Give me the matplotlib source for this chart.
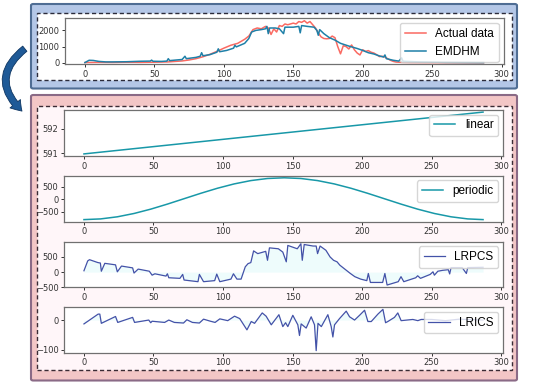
import matplotlib
matplotlib.use("Agg")
import matplotlib.pyplot as plt
from matplotlib.patches import FancyBboxPatch, Rectangle, FancyArrowPatch

# ---- data ----
actual_x = [0, 10, 20, 30, 40, 50, 60, 65, 70, 75, 80, 85, 90, 95, 100, 105, 110, 115, 118, 121,
            124, 127, 130, 132, 134, 136, 138, 140, 142, 144, 146, 148, 150, 152, 154, 156, 158,
            160, 162, 164, 166, 168, 170, 172, 174, 176, 178, 180, 182, 184, 186, 188, 190, 192,
            194, 196, 198, 200, 202, 204, 206, 208, 210, 212, 214, 216, 218, 220, 222, 224, 228,
            235, 250, 287]
actual_y = [10, 20, 15, 25, 20, 30, 50, 80, 110, 170, 250, 370, 520, 700, 900, 1080, 1200, 1450,
            1650, 2050, 2150, 2100, 2250, 2150, 1750, 2100, 1900, 2300, 2250, 2400, 2350, 2400,
            2450, 2400, 2550, 2500, 2600, 2450, 2550, 2350, 2150, 1850, 1600, 1500, 1480, 1500,
            1650, 1550, 1000, 550, 1050, 1000, 850, 1100, 800, 600, 480, 800, 700, 750, 650, 600,
            500, 380, 400, 350, 250, 150, 80, 40, 20, 10, 5, 0]

emdhm_x = [0, 3, 6, 10, 15, 20, 30, 40, 47, 48, 49, 55, 59, 60, 61, 70, 72, 73, 80, 83, 84, 85,
           90, 95, 96, 97, 102, 107, 108, 109, 115, 118, 120, 123, 127, 130, 131, 132, 133, 137,
           140, 143, 144, 150, 154, 155, 156, 160, 165, 167, 168, 169, 172, 176, 180, 184, 190,
           196, 200, 204, 208, 212, 215, 216, 217, 222, 226, 228, 229, 240, 260, 287]
emdhm_y = [10, 150, 140, 80, 50, 50, 60, 90, 100, 160, 90, 80, 100, 250, 130, 200, 400, 250, 330,
           400, 620, 430, 500, 650, 860, 680, 760, 900, 1080, 980, 1200, 1500, 1900, 2000, 2050,
           2100, 2250, 1800, 2150, 2150, 2100, 1800, 2200, 2200, 2250, 1850, 2300, 2250, 2200,
           2000, 1700, 2050, 1800, 1550, 1400, 1200, 1030, 880, 760, 620, 540, 420, 350, 480, 250,
           150, 100, 300, 90, 50, 20, 5]

linear_x = [0, 287]
linear_y = [590.97, 592.67]

periodic_x = [0, 12, 24, 36, 48, 60, 72, 84, 96, 108, 120, 132, 144, 156, 168, 180, 192, 204,
              216, 228, 240, 252, 264, 276, 287]
periodic_y = [-812, -784, -700, -567, -394, -192, 24, 240, 442, 615, 748, 832, 860, 832, 748,
              615, 442, 240, 24, -192, -394, -567, -700, -784, -812]

lrpcs_x = [0, 2.7, 4, 10, 11.8, 12.5, 15, 22.7, 24, 27, 35, 36, 39, 47, 49, 51, 59, 60, 61, 69,
           71, 72, 82, 83, 86, 94, 95.5, 97.7, 105.7, 107.5, 110, 113, 116, 118, 120, 122, 125,
           130.7, 132, 133.4, 139.8, 143, 145.5, 146.6, 153.4, 156, 157, 158.4, 164.8, 167, 168,
           169.8, 174, 177, 179.5, 182, 184, 191.6, 194.8, 199, 203.4, 204.5, 206, 214.8, 216.4,
           218, 226, 228, 230, 238.6, 240, 242, 249, 251, 252, 254.5, 258, 262, 263, 264, 272,
           275, 276, 287]
lrpcs_y = [45, 370, 410, 315, 300, 30, 290, 240, 10, 200, 140, -30, 100, 30, -100, -55, -130, -55,
           -185, -205, -75, -260, -315, -75, -315, -280, -65, -315, -230, -55, -230, -230, 175,
           280, 315, 700, 610, 685, 390, 800, 770, 660, 340, 880, 770, 935, 390, 910, 860, 860,
           610, 860, 720, 500, 390, 340, 230, -45, -150, -230, -280, -45, -340, -340, -45, -425,
           -315, -150, -315, -185, -120, -205, -75, 10, -100, 30, 60, 80, -60, 150, 150, -45, 150,
           160]

lrics_x = [0, 10.2, 11.4, 12.5, 22.7, 24.3, 35, 36.4, 46.6, 48, 49, 58, 61, 65, 71.6, 74, 78, 83,
           86, 91, 94.3, 97.7, 103.4, 108.3, 112, 117.2, 120.3, 122.7, 128.2, 131, 134.7, 140.2,
           143, 145, 146.6, 150.2, 153.8, 155, 156.2, 159.8, 163.4, 165.8, 167, 168.3, 170.7,
           175.4, 177.8, 179, 180.2, 183.8, 188.6, 191, 194.6, 198.2, 201.8, 204.2, 206.6, 211.4,
           215, 216.9, 218.5, 223.3, 225.7, 228.1, 236.5, 240.1, 242.5, 250, 260, 270, 287]
lrics_y = [-13, 20, 20, -11, 12, -8, 9, -8, 0, -9, -4, -8, 0, -8, -10, 1, -8, -10, 3, -4, -8, 4,
           -2, 13, 5, -33, -5, -11, 24, 13, -16, 18, -22, -9, -22, 16, -16, -52, -13, -27, 11, -16,
           -103, -11, -22, 18, -22, -57, -16, 5, 30, 11, 0, 16, 33, -5, -5, 20, 36, -9, -5, 9, 24,
           -2, 2, -2, 2, 2, -2, 3, 0]

x_ticks = [0, 50, 100, 150, 200, 250, 300]

W, H = 550, 387
fig = plt.figure(figsize=(W / 100, H / 100), dpi=100)
fig.patch.set_facecolor("white")


def px(left, top, right, bottom):
    # pixel box -> figure fraction [x, y, w, h]
    return [left / W, 1 - bottom / H, (right - left) / W, (bottom - top) / H]


def fig_box(left, top, right, bottom):
    x, y, w, h = px(left, top, right, bottom)
    return (x, y), w, h


# background panels
(x0, y0), w0, h0 = fig_box(31, 4, 517, 88.5)
fig.add_artist(FancyBboxPatch((x0, y0), w0, h0, boxstyle="round,pad=0,rounding_size=0.004",
                              transform=fig.transFigure, facecolor="#b4c7e7",
                              edgecolor="#4f6d94", linewidth=1.5, zorder=-3))
(x0, y0), w0, h0 = fig_box(37.3, 13.3, 511.7, 80)
fig.add_artist(Rectangle((x0, y0), w0, h0, transform=fig.transFigure, facecolor="white",
                         edgecolor="#2b2b3a", linewidth=1.0, linestyle=(0, (3, 2)), zorder=-2))

(x0, y0), w0, h0 = fig_box(31, 95, 517, 380.5)
fig.add_artist(FancyBboxPatch((x0, y0), w0, h0, boxstyle="round,pad=0,rounding_size=0.004",
                              transform=fig.transFigure, facecolor="#f3c6c6",
                              edgecolor="#8a6a86", linewidth=1.5, zorder=-3))
(x0, y0), w0, h0 = fig_box(36.7, 105.7, 511.7, 370)
fig.add_artist(Rectangle((x0, y0), w0, h0, transform=fig.transFigure, facecolor="#fff6f9",
                         edgecolor="#3a2b34", linewidth=1.0, linestyle=(0, (3, 2)), zorder=-2))

# curved arrow between the panels
arrow = FancyArrowPatch((27 / W, 1 - 47 / H), (24 / W, 1 - 113 / H),
                        transform=fig.transFigure, connectionstyle="arc3,rad=0.6",
                        arrowstyle="simple,head_width=1.2,head_length=0.9,tail_width=0.6",
                        mutation_scale=8, facecolor="#1f5a97", edgecolor="#0e3561",
                        linewidth=0.6, zorder=-1)
fig.add_artist(arrow)


def style(ax, yticks):
    ax.set_xticks(x_ticks)
    ax.set_yticks(yticks)
    ax.tick_params(labelsize=6, length=2.5, width=0.7, pad=1.5, colors="#333333")
    for s in ax.spines.values():
        s.set_color("#707070")
        s.set_linewidth(0.9)


leg_kw = dict(loc="upper right", prop={"family": "Liberation Sans", "size": 8.5},
              borderaxespad=0.4, handlelength=1.8)

# top chart
ax = fig.add_axes(px(65, 18.3, 503.5, 64))
ax.plot(actual_x, actual_y, color="#fa6a62", lw=1.1, label="Actual data")
ax.plot(emdhm_x, emdhm_y, color="#1f80a8", lw=1.1, label="EMDHM")
ax.set_ylim(-80, 2750)
style(ax, [0, 1000, 2000])
ax.legend(**leg_kw)

# decomposition
ax = fig.add_axes(px(64, 110, 503, 156))
ax.plot(linear_x, linear_y, color="#1898a8", lw=1.1, label="linear")
style(ax, [591, 592])
ax.legend(**leg_kw)

ax = fig.add_axes(px(64, 175.7, 503, 221.7))
ax.plot(periodic_x, periodic_y, color="#1898a8", lw=1.1, label="periodic")
style(ax, [-500, 0, 500])
ax.legend(**leg_kw)

ax = fig.add_axes(px(64, 241.7, 503, 287.3))
ax.fill_between(lrpcs_x, lrpcs_y, 0, color="#eefcfc", lw=0)
ax.plot(lrpcs_x, lrpcs_y, color="#4352a8", lw=0.9, label="LRPCS")
style(ax, [-500, 0, 500])
ax.legend(**leg_kw)

ax = fig.add_axes(px(64, 307.3, 503, 352.7))
ax.fill_between(lrics_x, lrics_y, 0, color="#eefcfc", lw=0)
ax.plot(lrics_x, lrics_y, color="#4352a8", lw=0.9, label="LRICS")
style(ax, [-100, 0])
ax.legend(**leg_kw)

fig.savefig("out.png", dpi=100)
